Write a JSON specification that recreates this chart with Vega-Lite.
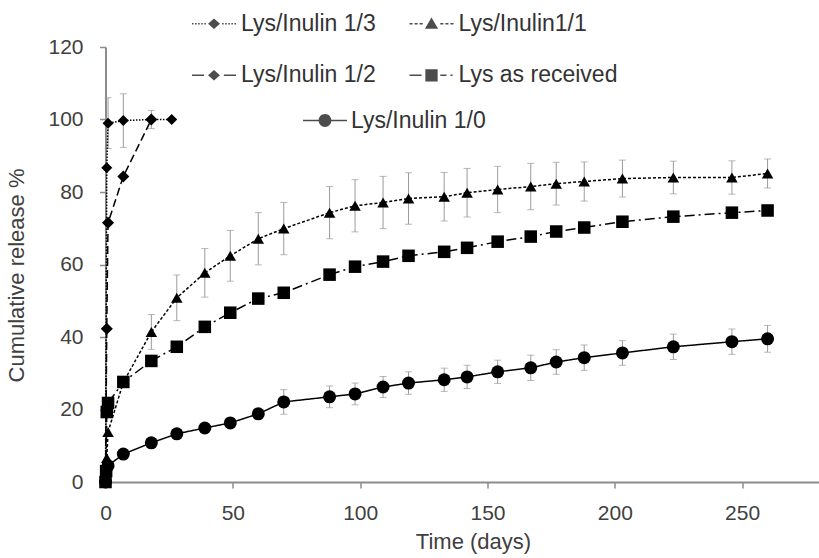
{
  "$schema": "https://vega.github.io/schema/vega-lite/v6.json",
  "width": 713,
  "height": 435,
  "autosize": {"type": "none"},
  "padding": {"left": 105.5, "top": 47, "right": 0.5, "bottom": 76},
  "background": "white",
  "config": {
    "view": {"stroke": null},
    "font": "Liberation Sans",
    "axis": {
      "grid": false,
      "domainColor": "#8c8c8c",
      "domainWidth": 2,
      "tickColor": "#8c8c8c",
      "tickWidth": 1.5,
      "tickSize": 6,
      "labelFont": "Liberation Sans",
      "labelFontSize": 21,
      "labelColor": "#404040",
      "labelFlush": false,
      "labelOverlap": false,
      "titleFont": "Liberation Sans",
      "titleFontSize": 22,
      "titleFontWeight": "normal",
      "titleColor": "#404040"
    }
  },
  "data": {
    "values": [
      {"s": "Lys/Inulin 1/3", "t": 0, "v": 0},
      {"s": "Lys/Inulin 1/3", "t": 0.5, "v": 86.7},
      {"s": "Lys/Inulin 1/3", "t": 1, "v": 99, "e": 7},
      {"s": "Lys/Inulin 1/3", "t": 7, "v": 99.7, "e": 7.4},
      {"s": "Lys/Inulin 1/3", "t": 18, "v": 100, "e": 2.5},
      {"s": "Lys/Inulin 1/3", "t": 26, "v": 100},
      {"s": "Lys/Inulin 1/2", "t": 0, "v": 0},
      {"s": "Lys/Inulin 1/2", "t": 0.5, "v": 42.3},
      {"s": "Lys/Inulin 1/2", "t": 1, "v": 71.5},
      {"s": "Lys/Inulin 1/2", "t": 7, "v": 84.3},
      {"s": "Lys/Inulin 1/2", "t": 18, "v": 100},
      {"s": "Lys/Inulin1/1", "t": 0, "v": 0},
      {"s": "Lys/Inulin1/1", "t": 0.5, "v": 6.6},
      {"s": "Lys/Inulin1/1", "t": 1, "v": 13.8},
      {"s": "Lys/Inulin1/1", "t": 7, "v": 27.5},
      {"s": "Lys/Inulin1/1", "t": 18, "v": 41.4, "e": 4.8},
      {"s": "Lys/Inulin1/1", "t": 28, "v": 50.8, "e": 6.3},
      {"s": "Lys/Inulin1/1", "t": 39, "v": 57.7, "e": 6.7},
      {"s": "Lys/Inulin1/1", "t": 49, "v": 62.4, "e": 7},
      {"s": "Lys/Inulin1/1", "t": 60, "v": 67.1, "e": 7.2},
      {"s": "Lys/Inulin1/1", "t": 70, "v": 69.9, "e": 7.2},
      {"s": "Lys/Inulin1/1", "t": 88, "v": 74.3, "e": 7.2},
      {"s": "Lys/Inulin1/1", "t": 98, "v": 76.2, "e": 7.2},
      {"s": "Lys/Inulin1/1", "t": 109, "v": 77.1, "e": 7.2},
      {"s": "Lys/Inulin1/1", "t": 119, "v": 78.2, "e": 7.1},
      {"s": "Lys/Inulin1/1", "t": 133, "v": 78.7, "e": 6.7},
      {"s": "Lys/Inulin1/1", "t": 142, "v": 79.8, "e": 6.7},
      {"s": "Lys/Inulin1/1", "t": 154, "v": 80.7, "e": 6.4},
      {"s": "Lys/Inulin1/1", "t": 167, "v": 81.5, "e": 6.4},
      {"s": "Lys/Inulin1/1", "t": 177, "v": 82.3, "e": 5.9},
      {"s": "Lys/Inulin1/1", "t": 188, "v": 82.9, "e": 5.4},
      {"s": "Lys/Inulin1/1", "t": 203, "v": 83.7, "e": 5.1},
      {"s": "Lys/Inulin1/1", "t": 223, "v": 84.0, "e": 4.5},
      {"s": "Lys/Inulin1/1", "t": 246, "v": 84.0, "e": 4.6},
      {"s": "Lys/Inulin1/1", "t": 260, "v": 85.1, "e": 4.0},
      {"s": "Lys as received", "t": 0, "v": 0},
      {"s": "Lys as received", "t": 0.25, "v": 3},
      {"s": "Lys as received", "t": 0.5, "v": 19.3},
      {"s": "Lys as received", "t": 1, "v": 21.8},
      {"s": "Lys as received", "t": 7, "v": 27.6},
      {"s": "Lys as received", "t": 18, "v": 33.4},
      {"s": "Lys as received", "t": 28, "v": 37.3},
      {"s": "Lys as received", "t": 39, "v": 42.8},
      {"s": "Lys as received", "t": 49, "v": 46.7},
      {"s": "Lys as received", "t": 60, "v": 50.6},
      {"s": "Lys as received", "t": 70, "v": 52.2},
      {"s": "Lys as received", "t": 88, "v": 57.2},
      {"s": "Lys as received", "t": 98, "v": 59.4},
      {"s": "Lys as received", "t": 109, "v": 60.8},
      {"s": "Lys as received", "t": 119, "v": 62.4},
      {"s": "Lys as received", "t": 133, "v": 63.5},
      {"s": "Lys as received", "t": 142, "v": 64.6},
      {"s": "Lys as received", "t": 154, "v": 66.3},
      {"s": "Lys as received", "t": 167, "v": 67.7},
      {"s": "Lys as received", "t": 177, "v": 69.1},
      {"s": "Lys as received", "t": 188, "v": 70.2},
      {"s": "Lys as received", "t": 203, "v": 71.8},
      {"s": "Lys as received", "t": 223, "v": 73.2},
      {"s": "Lys as received", "t": 246, "v": 74.3},
      {"s": "Lys as received", "t": 260, "v": 74.9},
      {"s": "Lys/Inulin 1/0", "t": 0, "v": 0},
      {"s": "Lys/Inulin 1/0", "t": 1, "v": 4.5, "e": 1},
      {"s": "Lys/Inulin 1/0", "t": 7, "v": 7.7, "e": 1},
      {"s": "Lys/Inulin 1/0", "t": 18, "v": 10.8, "e": 1},
      {"s": "Lys/Inulin 1/0", "t": 28, "v": 13.3, "e": 1},
      {"s": "Lys/Inulin 1/0", "t": 39, "v": 14.9, "e": 1},
      {"s": "Lys/Inulin 1/0", "t": 49, "v": 16.3, "e": 1},
      {"s": "Lys/Inulin 1/0", "t": 60, "v": 18.8, "e": 1.5},
      {"s": "Lys/Inulin 1/0", "t": 70, "v": 22.1, "e": 3.4},
      {"s": "Lys/Inulin 1/0", "t": 88, "v": 23.5, "e": 3},
      {"s": "Lys/Inulin 1/0", "t": 98, "v": 24.3, "e": 3},
      {"s": "Lys/Inulin 1/0", "t": 109, "v": 26.2, "e": 2.9},
      {"s": "Lys/Inulin 1/0", "t": 119, "v": 27.3, "e": 3.1},
      {"s": "Lys/Inulin 1/0", "t": 133, "v": 28.2, "e": 3.2},
      {"s": "Lys/Inulin 1/0", "t": 142, "v": 29.0, "e": 3.2},
      {"s": "Lys/Inulin 1/0", "t": 154, "v": 30.4, "e": 3.2},
      {"s": "Lys/Inulin 1/0", "t": 167, "v": 31.5, "e": 3.5},
      {"s": "Lys/Inulin 1/0", "t": 177, "v": 33.1, "e": 3.4},
      {"s": "Lys/Inulin 1/0", "t": 188, "v": 34.3, "e": 3.5},
      {"s": "Lys/Inulin 1/0", "t": 203, "v": 35.6, "e": 3.4},
      {"s": "Lys/Inulin 1/0", "t": 223, "v": 37.3, "e": 3.5},
      {"s": "Lys/Inulin 1/0", "t": 246, "v": 38.7, "e": 3.5},
      {"s": "Lys/Inulin 1/0", "t": 260, "v": 39.5, "e": 3.7}
    ]
  },
  "encoding": {
    "x": {
      "field": "t",
      "type": "quantitative",
      "scale": {"domain": [0, 280], "nice": false, "zero": false},
      "axis": {
        "title": "Time (days)",
        "values": [0, 50, 100, 150, 200, 250],
        "labelBaseline": "alphabetic",
        "labelPadding": 31,
        "titleX": 367.5,
        "titleY": 66,
        "titleAlign": "center",
        "titleBaseline": "alphabetic"
      }
    },
    "y": {
      "field": "v",
      "type": "quantitative",
      "scale": {"domain": [0, 120], "nice": false},
      "axis": {
        "title": "Cumulative release %",
        "values": [0, 20, 40, 60, 80, 100, 120],
        "labelPadding": 16.5,
        "titleX": -82.5,
        "titleY": 228,
        "titleAngle": 270,
        "titleAlign": "center",
        "titleBaseline": "alphabetic"
      }
    }
  },
  "layer": [
    {
      "transform": [{"filter": "datum.e > 0"}],
      "mark": {
        "type": "errorbar",
        "ticks": {"size": 7, "color": "#9a9a9a", "strokeWidth": 1},
        "rule": {"color": "#9a9a9a", "strokeWidth": 1}
      },
      "encoding": {
        "yError": {"field": "e"},
        "detail": {"field": "s", "type": "nominal"}
      }
    },
    {
      "mark": {"type": "line", "color": "black", "strokeWidth": 1.5},
      "encoding": {
        "strokeDash": {
          "field": "s",
          "type": "nominal",
          "scale": {
            "domain": ["Lys/Inulin 1/3", "Lys/Inulin1/1", "Lys/Inulin 1/2", "Lys as received", "Lys/Inulin 1/0"],
            "range": [[1.5, 1.5], [3, 2], [8, 4], [10, 4, 2, 4], [1, 0]]
          },
          "legend": null
        }
      }
    },
    {
      "mark": {"type": "point", "filled": true, "color": "black", "opacity": 1},
      "encoding": {
        "shape": {
          "field": "s",
          "type": "nominal",
          "scale": {
            "domain": ["Lys/Inulin 1/3", "Lys/Inulin1/1", "Lys/Inulin 1/2", "Lys as received", "Lys/Inulin 1/0"],
            "range": ["diamond", "triangle-up", "diamond", "square", "circle"]
          },
          "legend": null
        },
        "size": {
          "field": "s",
          "type": "nominal",
          "scale": {
            "domain": ["Lys/Inulin 1/3", "Lys/Inulin1/1", "Lys/Inulin 1/2", "Lys as received", "Lys/Inulin 1/0"],
            "range": [121, 169, 121, 144, 150]
          },
          "legend": null
        }
      }
    },
    {
      "transform": [{"filter": "false"}],
      "mark": {"type": "point", "filled": true, "color": "black"},
      "encoding": {
        "shape": {
          "field": "s",
          "type": "nominal",
          "scale": {
            "domain": ["Lys/Inulin 1/3", "Lys/Inulin 1/2", "Lys/Inulin1/1", "Lys as received"],
            "range": [
              "M-1,-0.035h0.07v0.07h-0.07ZM-0.86,-0.035h0.07v0.07h-0.07ZM-0.72,-0.035h0.07v0.07h-0.07ZM-0.58,-0.035h0.07v0.07h-0.07ZM-0.44,-0.035h0.07v0.07h-0.07ZM0.37,-0.035h0.07v0.07h-0.07ZM0.51,-0.035h0.07v0.07h-0.07ZM0.65,-0.035h0.07v0.07h-0.07ZM0.79,-0.035h0.07v0.07h-0.07ZM0.93,-0.035h0.07v0.07h-0.07ZM-0.27,0L0,-0.24L0.27,0L0,0.24Z",
              "M-1,-0.035H-0.45V0.035H-1ZM0.45,-0.035H1V0.035H0.45ZM-0.27,0L0,-0.24L0.27,0L0,0.24Z",
              "M-1,-0.035h0.14v0.07h-0.14ZM-0.77,-0.035h0.14v0.07h-0.14ZM-0.54,-0.035h0.14v0.07h-0.14ZM0.4,-0.035h0.14v0.07h-0.14ZM0.63,-0.035h0.14v0.07h-0.14ZM0.86,-0.035h0.14v0.07h-0.14ZM0,-0.28L0.3,0.23L-0.3,0.23Z",
              "M-1,-0.035H-0.45V0.035H-1ZM0.4,-0.035H0.68V0.035H0.4ZM0.86,-0.035H0.96V0.035H0.86ZM-0.28,-0.28H0.28V0.28H-0.28Z"
            ]
          },
          "legend": {
            "title": null,
            "orient": "none",
            "legendX": 86.5,
            "legendY": -45.3,
            "columns": 2,
            "columnPadding": 33.5,
            "rowPadding": 17.6,
            "padding": 0,
            "symbolSize": 1936,
            "symbolStrokeWidth": 0,
            "symbolFillColor": "black",
            "labelFont": "Liberation Sans",
            "labelFontSize": 23,
            "labelColor": "#333333",
            "labelOffset": 5,
            "labelLimit": 400,
            "encode": {
              "symbols": {
                "update": {
                  "fill": {"value": "black"},
                  "opacity": {"value": 1}
                }
              }
            }
          }
        }
      }
    },
    {
      "transform": [{"filter": "false"}],
      "mark": {"type": "point", "filled": true, "color": "black"},
      "encoding": {
        "shape": {
          "field": "s",
          "type": "nominal",
          "scale": {
            "domain": ["Lys/Inulin 1/0"],
            "range": ["M-1,-0.035H1V0.035H-1ZM-0.29,0A0.29,0.29 0 1,1 0.29,0A0.29,0.29 0 1,1 -0.29,0Z"]
          },
          "legend": {
            "title": null,
            "orient": "none",
            "legendX": 197.5,
            "legendY": 51.5,
            "padding": 0,
            "symbolSize": 1936,
            "symbolStrokeWidth": 0,
            "symbolFillColor": "black",
            "labelFont": "Liberation Sans",
            "labelFontSize": 23,
            "labelColor": "#333333",
            "labelOffset": 4,
            "labelLimit": 400,
            "encode": {
              "symbols": {
                "update": {
                  "fill": {"value": "black"},
                  "opacity": {"value": 1}
                }
              }
            }
          }
        }
      }
    }
  ],
  "resolve": {
    "scale": {"shape": "independent"},
    "legend": {"shape": "independent"}
  }
}
